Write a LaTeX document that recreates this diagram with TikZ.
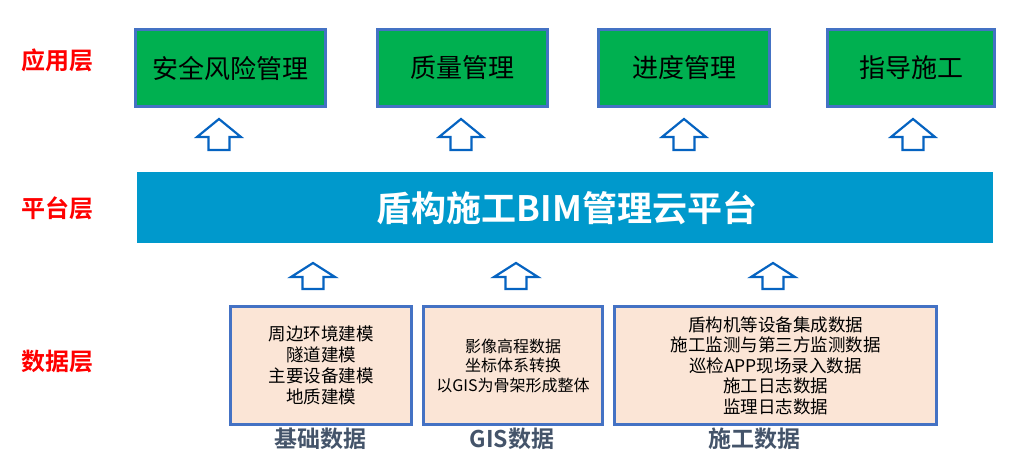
\documentclass[tikz,border=0pt]{standalone}
\usepackage{fontspec}
\setmainfont{Noto Sans CJK SC}
\newfontfamily\cjkb{Noto Sans CJK SC Bold}
\definecolor{appgreen}{HTML}{00B050}
\definecolor{boxblue}{HTML}{4472C4}
\definecolor{barblue}{HTML}{0099CC}
\definecolor{peach}{HTML}{FBE5D6}
\definecolor{arrblue}{HTML}{0563C1}
\definecolor{slate}{HTML}{44546A}
\tikzset{
  appbox/.style={draw=boxblue, line width=3pt, fill=appgreen, anchor=north west, inner sep=0pt},
  apptext/.style={font=\fontsize{26}{30}\selectfont, text=black},
  databox/.style={draw=boxblue, line width=3pt, fill=peach, anchor=north west, inner sep=0pt},
  layerlbl/.style={font=\cjkb\fontsize{24}{28}\selectfont, text=red},
  datalbl/.style={font=\cjkb\fontsize{23}{26}\selectfont, text=slate},
  uparr/.style={draw=arrblue, line width=2.2pt, fill=white, line join=miter},
}
\newcommand{\myuparrow}[4]{% x, top, headbase, bottom
  \draw[uparr] (#1,#2) -- (#1+22,#3) -- (#1+10.5,#3) -- (#1+10.5,#4) -- (#1-10.5,#4) -- (#1-10.5,#3) -- (#1-22,#3) -- cycle;}
\begin{document}
\begin{tikzpicture}[x=1pt,y=-1pt]
\useasboundingbox (0,0) rectangle (1034,474);
% layer labels
\node[layerlbl] (l1) at (57,60) {应用层};
\node[layerlbl] (l2) at (57,208) {平台层};
\node[layerlbl] (l3) at (57,362) {数据层};
% application boxes
\node[appbox, minimum width=190pt, minimum height=77pt] (a1) at (134,28) {};
\node[apptext] (a1t) at (a1.center) {安全风险管理};
\node[appbox, minimum width=170pt, minimum height=77pt] (a2) at (376,28) {};
\node[apptext] (a2t) at (a2.center) {质量管理};
\node[appbox, minimum width=171pt, minimum height=77pt] (a3) at (597,28) {};
\node[apptext] (a3t) at (a3.center) {进度管理};
\node[appbox, minimum width=167pt, minimum height=77pt] (a4) at (826,28) {};
\node[apptext] (a4t) at (a4.center) {指导施工};
% upper arrows
\myuparrow{219}{119}{137}{150}
\myuparrow{461}{119}{137}{150}
\myuparrow{684}{119}{137}{150}
\myuparrow{913}{119}{137}{150}
% platform bar
\node[fill=barblue, anchor=north west, minimum width=856pt, minimum height=71pt, inner sep=0pt] (bar) at (137,172) {};
\node[font=\cjkb\fontsize{35}{40}\selectfont, text=white] (bart) at (567,208) {盾构施工BIM管理云平台};
% lower arrows
\myuparrow{313}{263}{277}{289}
\myuparrow{516}{263}{277}{289}
\myuparrow{773}{263}{277}{289}
% data boxes
\node[databox, minimum width=181pt, minimum height=118pt] (d1) at (229,305) {};
\node[align=center, font=\fontsize{17.5}{21}\selectfont] (d1t) at (d1.center) {周边环境建模\\隧道建模\\主要设备建模\\地质建模};
\node[databox, minimum width=179pt, minimum height=118pt] (d2) at (422,305) {};
\node[align=center, font=\fontsize{16}{19.5}\selectfont] (d2t) at (d2.center) {影像高程数据\\坐标体系转换\\以GIS为骨架形成整体};
\node[databox, minimum width=322pt, minimum height=118pt] (d3) at (613,305) {};
\node[align=center, font=\fontsize{17.5}{20.5}\selectfont] (d3t) at (d3.center) {盾构机等设备集成数据\\施工监测与第三方监测数据\\巡检APP现场录入数据\\施工日志数据\\监理日志数据};
% data labels
\node[datalbl] (dl1) at (320,439) {基础数据};
\node[datalbl] (dl2) at (512,439) {GIS数据};
\node[datalbl] (dl3) at (754,439) {施工数据};
\end{tikzpicture}
\end{document}
